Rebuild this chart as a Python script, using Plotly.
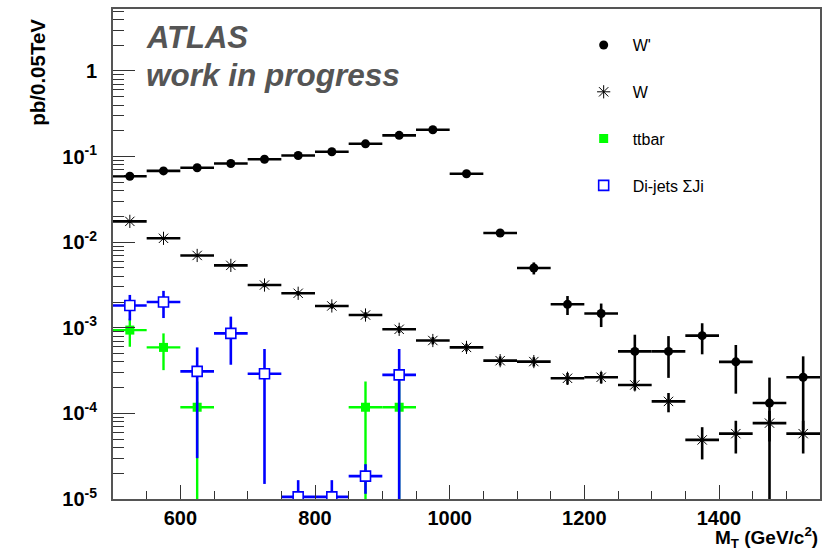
import plotly.graph_objects as go

# Transverse-mass bins: 50 GeV/c^2 wide, from 500 to 1550
mt_bin_centers = [525, 575, 625, 675, 725, 775, 825, 875, 925, 975, 1025,
                  1075, 1125, 1175, 1225, 1275, 1325, 1375, 1425, 1475, 1525]
mt_half_width = 25

# W' signal (pb per 0.05 TeV) and its statistical errors
wprime = [0.059, 0.068, 0.074, 0.083, 0.093, 0.103, 0.114, 0.141, 0.177, 0.206,
          0.063, 0.0128, 0.0050, 0.00188, 0.00147, 0.00053, 0.00053, 0.00081,
          0.00040, 0.000132, 0.000264]
wprime_err = [0.004, 0.004, 0.004, 0.0045, 0.0045, 0.005, 0.005, 0.0055, 0.006,
              0.0065, 0.0035, 0.0013, 0.0008, 0.00047, 0.00045, 0.0003, 0.00027,
              0.00032, 0.00023, 0.00013, 0.0002]

# Standard-model W background
w_bkg = [0.0175, 0.0111, 0.0070, 0.00536, 0.00316, 0.00253, 0.0018, 0.00141,
         0.00096, 0.00071, 0.00059, 0.000413, 0.000403, 0.000257, 0.000264,
         0.000215, 0.000138, 0.000049, 0.000058, 0.000077, 0.000058]
w_bkg_err = [0.0006, 0.0004, 0.0003, 0.00025, 0.00018, 0.00016, 0.00013, 0.00011,
             0.00009, 0.00007, 0.00006, 0.00005, 0.00005, 0.00004, 0.00004,
             0.00003, 0.000035, 0.00002, 0.000024, 0.00003, 0.000024]

# ttbar background (empty bins left out)
ttbar = [0.00094, 0.00059, 0.000118, None, None, None, None, 0.000118, 0.000118,
         None, None, None, None, None, None, None, None, None, None, None, None]
ttbar_err = [0.00034, 0.00027, 0.000118, None, None, None, None, 0.000118,
             0.000118, None, None, None, None, None, None, None, None, None,
             None, None, None]

# QCD di-jet background
dijets = [0.00182, 0.0020, 0.00031, 0.00086, 0.00029, 0.0000106, 0.0000106,
          0.0000185, 0.000282, None, None, None, None, None, None, None, None,
          None, None, None, None]
dijets_err = [0.0006, 0.0007, 0.00028, 0.00049, 0.000275, 0.000006, 0.000006,
              0.000007, 0.000282, None, None, None, None, None, None, None, None,
              None, None, None, None]

x_tick_vals = [600, 800, 1000, 1200, 1400]
y_tick_vals = [1e-5, 1e-4, 1e-3, 1e-2, 1e-1, 1]
y_tick_text = ["10<sup>-5</sup>", "10<sup>-4</sup>", "10<sup>-3</sup>",
               "10<sup>-2</sup>", "10<sup>-1</sup>", "1"]

FONT = "Liberation Sans, Arial, Helvetica, sans-serif"

fig = go.Figure()


def add_series(name, y, err, symbol, size, fill, edge, edge_w, bar_color, bar_w):
    fig.add_trace(go.Scatter(
        x=mt_bin_centers, y=y, name=name, mode="markers",
        legendgroup=name,
        marker=dict(symbol=symbol, size=size, color=fill,
                    line=dict(color=edge, width=edge_w)),
        error_x=dict(type="constant", value=mt_half_width, width=0,
                     thickness=bar_w, color=bar_color),
        error_y=dict(type="data", array=err, width=0,
                     thickness=bar_w, color=bar_color),
    ))


add_series("W'", wprime, wprime_err, "circle", 9, "black", "black", 0, "black", 2.6)
add_series("W", w_bkg, w_bkg_err, "asterisk", 11, "black", "black", 1, "black", 2.6)
add_series("ttbar", ttbar, ttbar_err, "square", 9, "#00ff00", "#00ff00", 0, "#00ff00", 2.4)
add_series("Di-jets \u03a3Ji", dijets, dijets_err, "square", 10, "white", "#0000ff", 1.6,
           "#0000ff", 2.6)

minor_y = [m * 10 ** e for e in range(-5, 1) for m in range(2, 10)]

fig.update_layout(
    width=829, height=556,
    margin=dict(l=113, r=9, t=7, b=57),
    paper_bgcolor="white", plot_bgcolor="white",
    font=dict(family=FONT, color="black"),
    showlegend=True,
    legend=dict(x=0.653, y=0.961, xanchor="left", yanchor="top",
                bgcolor="rgba(0,0,0,0)", font=dict(size=16, family=FONT),
                itemwidth=48, tracegroupgap=23),
    xaxis=dict(range=[500, 1550], tickmode="array", tickvals=x_tick_vals,
               ticks="inside", ticklen=14, tickwidth=1.3, tickcolor="#333",
               showline=True, linecolor="#555", linewidth=2, mirror=True,
               showgrid=False, zeroline=False,
               tickfont=dict(size=20, family=FONT, weight="bold"),
               minor=dict(tickmode="linear", tick0=500, dtick=50, ticks="inside",
                          ticklen=8, tickwidth=1.3, tickcolor="#333", showgrid=False)),
    yaxis=dict(type="log", range=[-5, 0.724], tickmode="array",
               tickvals=y_tick_vals, ticktext=y_tick_text,
               ticks="inside", ticklen=22, tickwidth=1.3, tickcolor="#333",
               showline=True, linecolor="#555", linewidth=2, mirror=True,
               showgrid=False, zeroline=False, ticklabelstandoff=10,
               tickfont=dict(size=20, family=FONT, weight="bold"),
               minor=dict(tickmode="array", tickvals=minor_y, ticks="inside",
                          ticklen=11, tickwidth=1.3, tickcolor="#333", showgrid=False)),
    annotations=[
        dict(text="<b><i>ATLAS</i></b>", xref="paper", yref="paper",
             x=0.044, y=0.941, xanchor="left", yanchor="middle",
             showarrow=False, font=dict(size=31, color="#555555", family=FONT)),
        dict(text="<b><i>work in progress</i></b>", xref="paper", yref="paper",
             x=0.044, y=0.866, xanchor="left", yanchor="middle",
             showarrow=False, font=dict(size=31.5, color="#555555", family=FONT)),
        dict(text="<b>pb/0.05TeV</b>", xref="paper", yref="paper",
             x=-0.106, y=0.870, xanchor="center", yanchor="middle", textangle=-90,
             showarrow=False, font=dict(size=20.5, family=FONT)),
        dict(text="<b>M<sub>T</sub> (GeV/c<sup>2</sup>)</b>", xref="paper", yref="paper",
             x=1.0, y=-0.078, xanchor="right", yanchor="middle",
             showarrow=False, font=dict(size=19, family=FONT)),
    ],
)

fig.write_html("out.html")
